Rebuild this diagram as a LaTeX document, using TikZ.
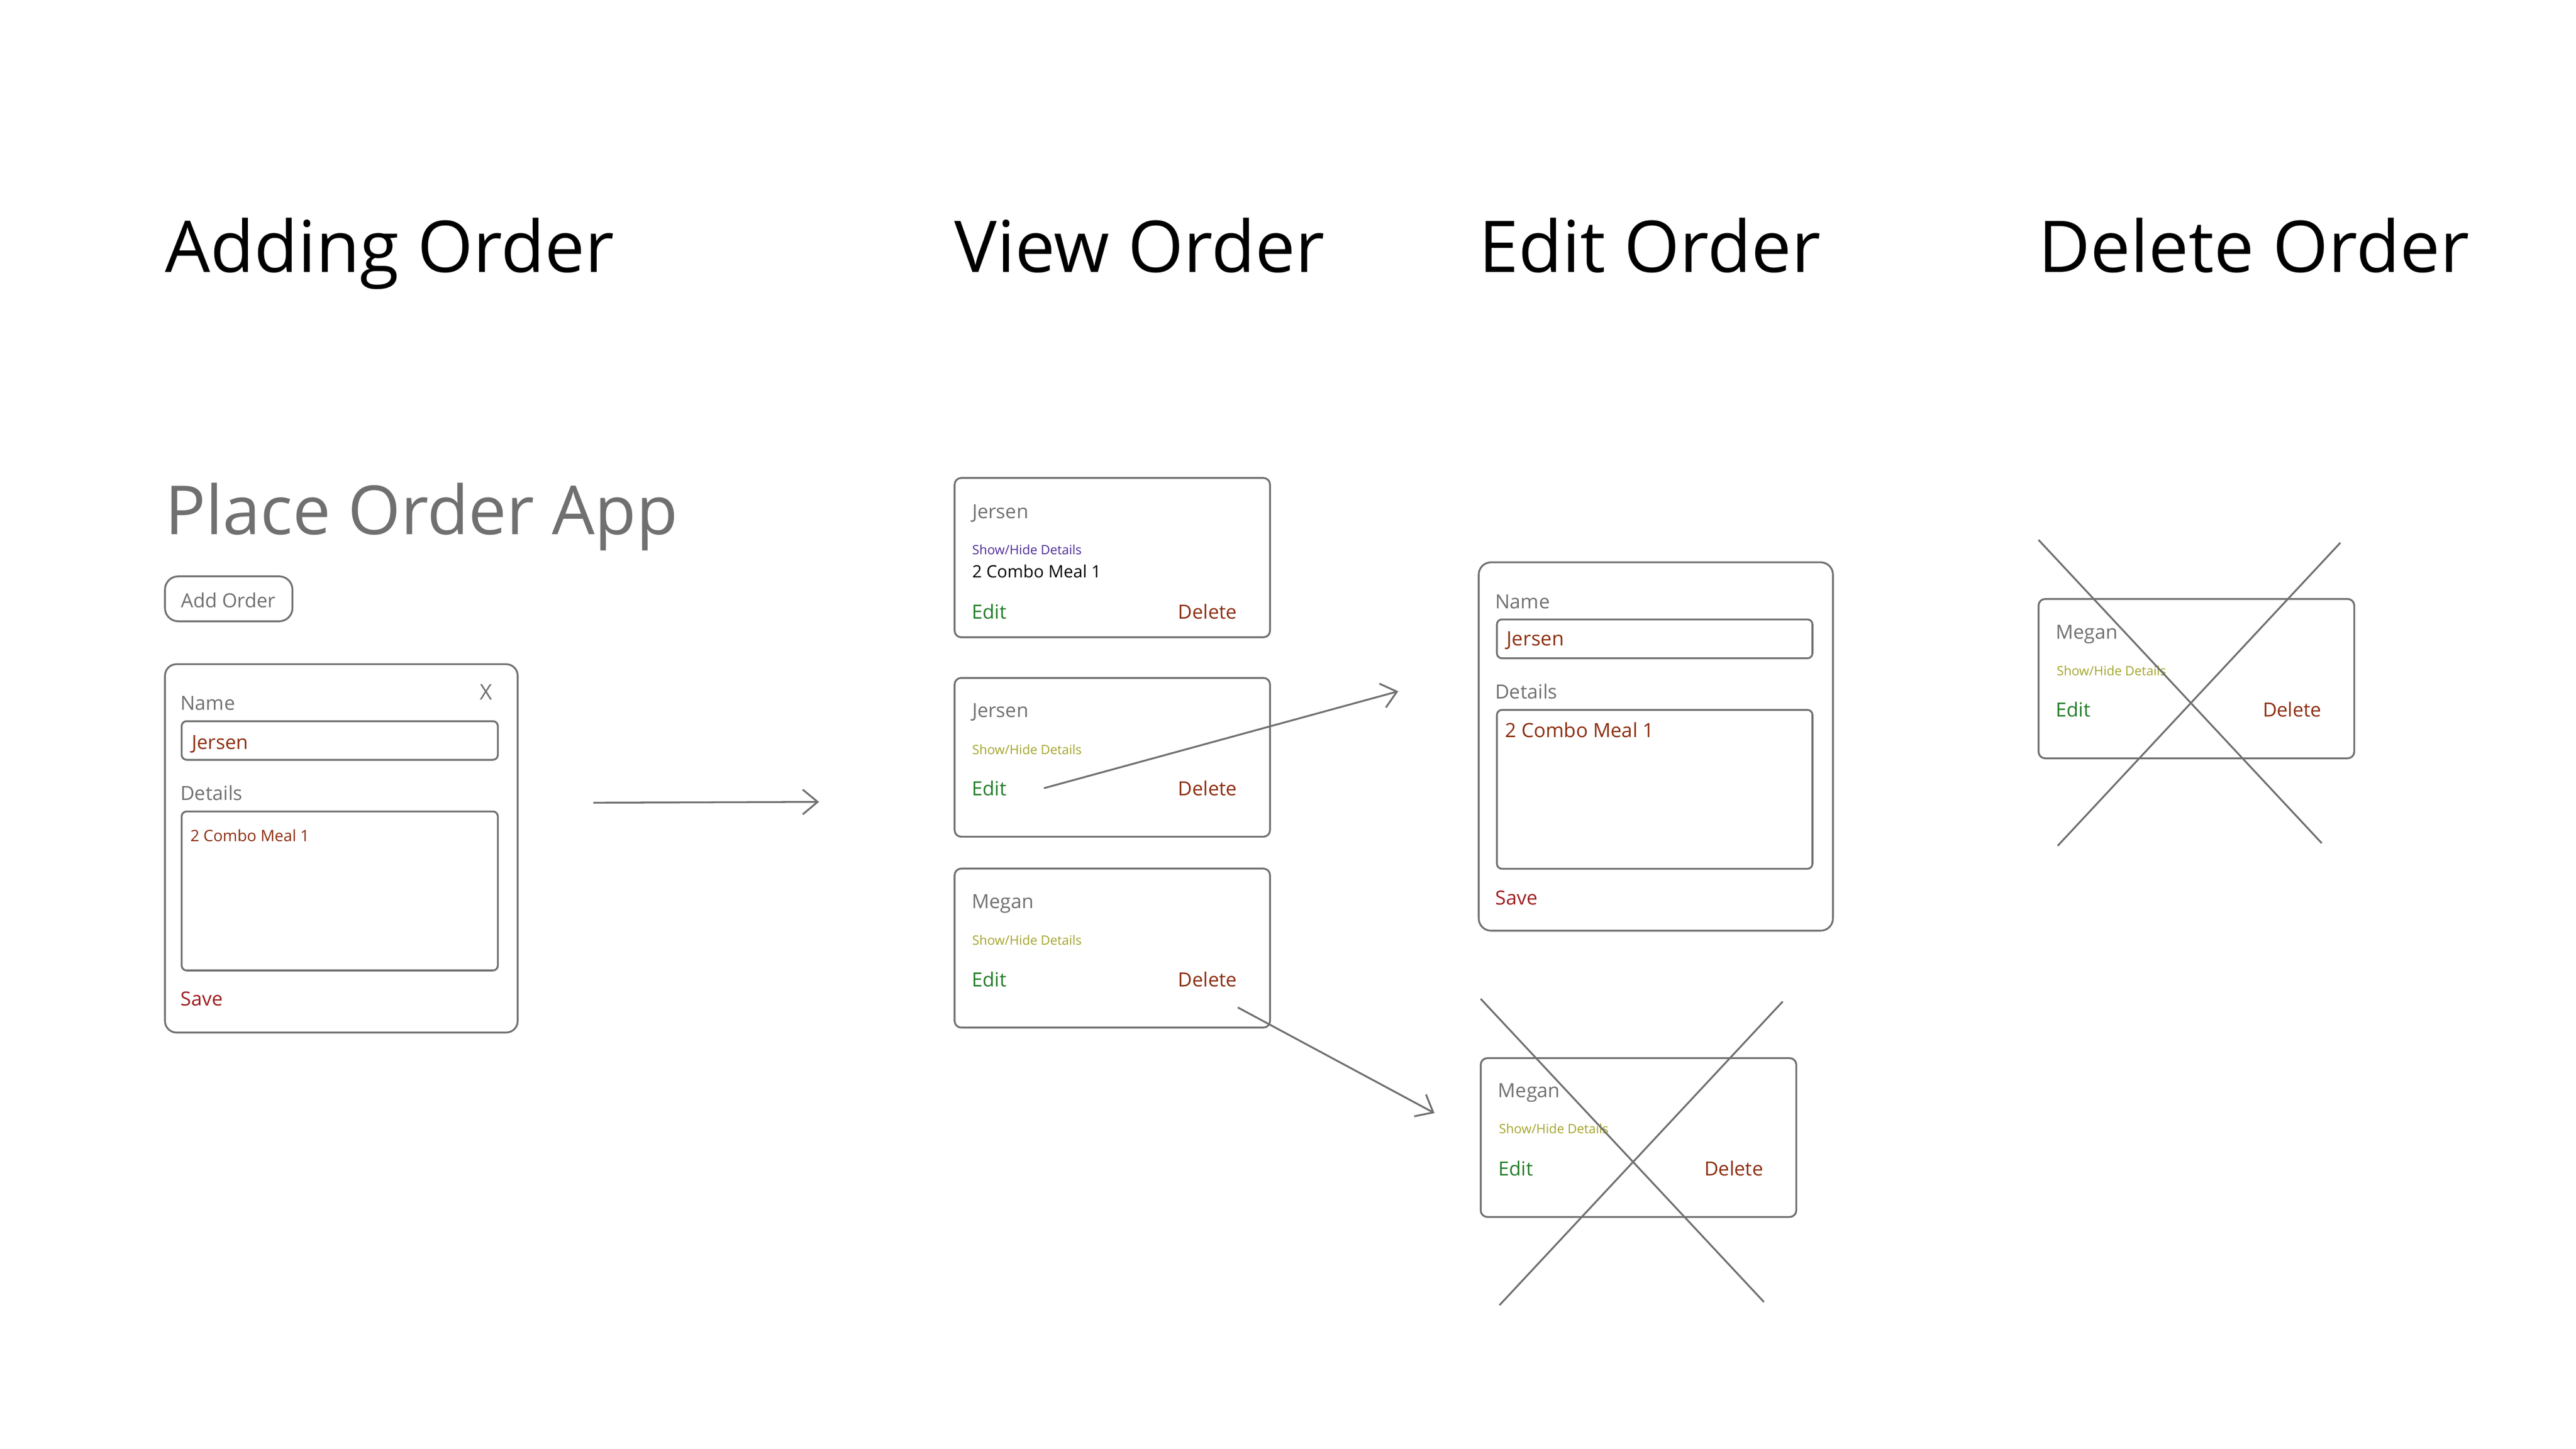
\documentclass[tikz,border=0pt]{standalone}
\usepackage{fontspec}
\setmainfont{Open Sans}
\usetikzlibrary{arrows.meta}
\definecolor{lgray}{RGB}{112,112,112}
\definecolor{tbrown}{RGB}{140,45,15}
\definecolor{tred}{RGB}{160,28,30}
\definecolor{tgreen}{RGB}{35,125,40}
\definecolor{tpurple}{RGB}{80,45,155}
\definecolor{tolive}{RGB}{165,165,45}
\newcommand\myfs[1]{\fontsize{#1pt}{#1pt}\selectfont}
\begin{document}
\begin{tikzpicture}[x=1pt,y=-1pt,
  txt/.style={anchor=base west, inner sep=0pt, outer sep=0pt},
  title/.style={txt, text=black, font=\myfs{43.3}},
  lbl/.style={txt, text=lgray, font=\myfs{11.8}},
  inval/.style={txt, text=tbrown, font=\myfs{11.8}},
  edittxt/.style={txt, text=tgreen, font=\myfs{11.8}},
  deltxt/.style={txt, text=tbrown, font=\myfs{11.8}},
  savetxt/.style={txt, text=tred, font=\myfs{11.8}},
  shtxt/.style={txt, text=tolive, font=\myfs{7.8}},
  box/.style={draw=lgray, line width=1.1pt, rounded corners=#1, inner sep=0pt, outer sep=0pt, anchor=north west},
  conn/.style={draw=lgray, line width=1.1pt, -{Straight Barb[length=9pt,width=15pt]}},
  cross/.style={draw=lgray, line width=1.1pt},
]
\fill[white] (0,0) rectangle (1560,877.5);
\useasboundingbox (0,0) rectangle (1560,877.5);

% titles
\node[title] (t1) at (99.9,165) {Adding Order};
\node[title] (t2) at (578.1,165) {View Order};
\node[title] (t3) at (895.5,165) {Edit Order};
\node[title] (t4) at (1234.5,165) {Delete Order};

% adding order
\node[txt, text=lgray, font=\myfs{41}] (app) at (99.9,323.6) {Place Order App};
\node[box=8pt, minimum width=77.2pt, minimum height=27.2pt] (addbtn) at (99.9,349.1) {};
\node[lbl] (addbtntxt) at (109.6,368.1) {Add Order};
\node[box=7pt, minimum width=213.6pt, minimum height=223.1pt] (addform) at (99.9,402.3) {};
\node[txt, text=lgray, font=\myfs{13}] (xclose) at (290.5,424) {X};
\node[lbl] (aname) at (109.3,430) {Name};
\node[box=3pt, minimum width=191.5pt, minimum height=23.4pt] (anamein) at (110,436.8) {};
\node[inval] (anameval) at (116.2,453.8) {Jersen};
\node[lbl] (adet) at (109.3,484.7) {Details};
\node[box=3pt, minimum width=191.5pt, minimum height=96.3pt] (adetin) at (110,491.5) {};
\node[txt, text=tbrown, font=\myfs{9.5}] (adetval) at (115.3,509.7) {2 Combo Meal 1};
\node[savetxt] (asave) at (109.5,609.1) {Save};

\coordinate (a1s) at (359.3,486.2);
\coordinate (a1e) at (496,485.7);
\draw[conn] (a1s) -- (a1e);

% view order cards
\node[box=4pt, minimum width=191pt, minimum height=96.5pt] (c1) at (578.1,289.5) {};
\node[lbl] (c1name) at (588.8,313.9) {Jersen};
\node[txt, text=tpurple, font=\myfs{7.8}] (c1sh) at (588.8,336) {Show/Hide Details};
\node[txt, text=black, font=\myfs{10.3}] (c1det) at (588.8,349.8) {2 Combo Meal 1};
\node[edittxt] (c1edit) at (588.5,375) {Edit};
\node[deltxt] (c1del) at (713.5,375) {Delete};

\node[box=4pt, minimum width=191pt, minimum height=96.2pt] (c2) at (578.1,410.6) {};
\node[lbl] (c2name) at (588.8,434.6) {Jersen};
\node[shtxt] (c2sh) at (588.8,456.8) {Show/Hide Details};
\node[edittxt] (c2edit) at (588.5,481.8) {Edit};
\node[deltxt] (c2del) at (713.5,481.8) {Delete};

\node[box=4pt, minimum width=191pt, minimum height=96.3pt] (c3) at (578.1,526.1) {};
\node[lbl] (c3name) at (588.5,550.2) {Megan};
\node[shtxt] (c3sh) at (588.8,572.3) {Show/Hide Details};
\node[edittxt] (c3edit) at (588.5,597.6) {Edit};
\node[deltxt] (c3del) at (713.5,597.6) {Delete};

\coordinate (a2s) at (632.2,477.4);
\coordinate (a2e) at (846.8,418.7);
\draw[conn] (a2s) -- (a2e);
\coordinate (a3s) at (749.6,610.2);
\coordinate (a3e) at (868.7,674.2);
\draw[conn] (a3s) -- (a3e);

% edit order form
\node[box=7.4pt, minimum width=214.5pt, minimum height=223.1pt] (eform) at (895.5,340.6) {};
\node[lbl] (ename) at (905.5,368.6) {Name};
\node[box=3pt, minimum width=191.1pt, minimum height=23.5pt] (enamein) at (906.5,375.2) {};
\node[inval, font=\myfs{12}] (enameval) at (912.5,391.2) {Jersen};
\node[lbl] (edet) at (905.5,423.1) {Details};
\node[box=3pt, minimum width=191.1pt, minimum height=96.2pt] (edetin) at (906.5,430) {};
\node[inval, font=\myfs{11.9}] (edetval) at (911.5,446.7) {2 Combo Meal 1};
\node[savetxt] (esave) at (905.5,548) {Save};

% edit: crossed card
\node[box=4pt, minimum width=191.1pt, minimum height=96.2pt] (ec) at (896.7,640.9) {};
\node[lbl] (ecname) at (907.2,664.8) {Megan};
\node[shtxt] (ecsh) at (907.8,686.7) {Show/Hide Details};
\node[edittxt] (ecedit) at (907.5,712) {Edit};
\node[deltxt] (ecdel) at (1032.2,712) {Delete};
\coordinate (ex1a) at (896.7,605);
\coordinate (ex1b) at (1068.2,788.6);
\coordinate (ex2a) at (1079.6,606.6);
\coordinate (ex2b) at (908.1,790.5);
\draw[cross] (ex1a) -- (ex1b);
\draw[cross] (ex2a) -- (ex2b);

% delete order
\node[box=4pt, minimum width=191.2pt, minimum height=96.5pt] (dc) at (1234.5,362.8) {};
\node[lbl] (dcname) at (1245,387) {Megan};
\node[shtxt] (dcsh) at (1245.5,409.2) {Show/Hide Details};
\node[edittxt] (dcedit) at (1245,434) {Edit};
\node[deltxt] (dcdel) at (1370.3,434) {Delete};
\coordinate (dx1a) at (1234.5,327);
\coordinate (dx1b) at (1406,510.7);
\coordinate (dx2a) at (1417.3,328.7);
\coordinate (dx2b) at (1246.1,512.3);
\draw[cross] (dx1a) -- (dx1b);
\draw[cross] (dx2a) -- (dx2b);
\end{tikzpicture}
\end{document}
